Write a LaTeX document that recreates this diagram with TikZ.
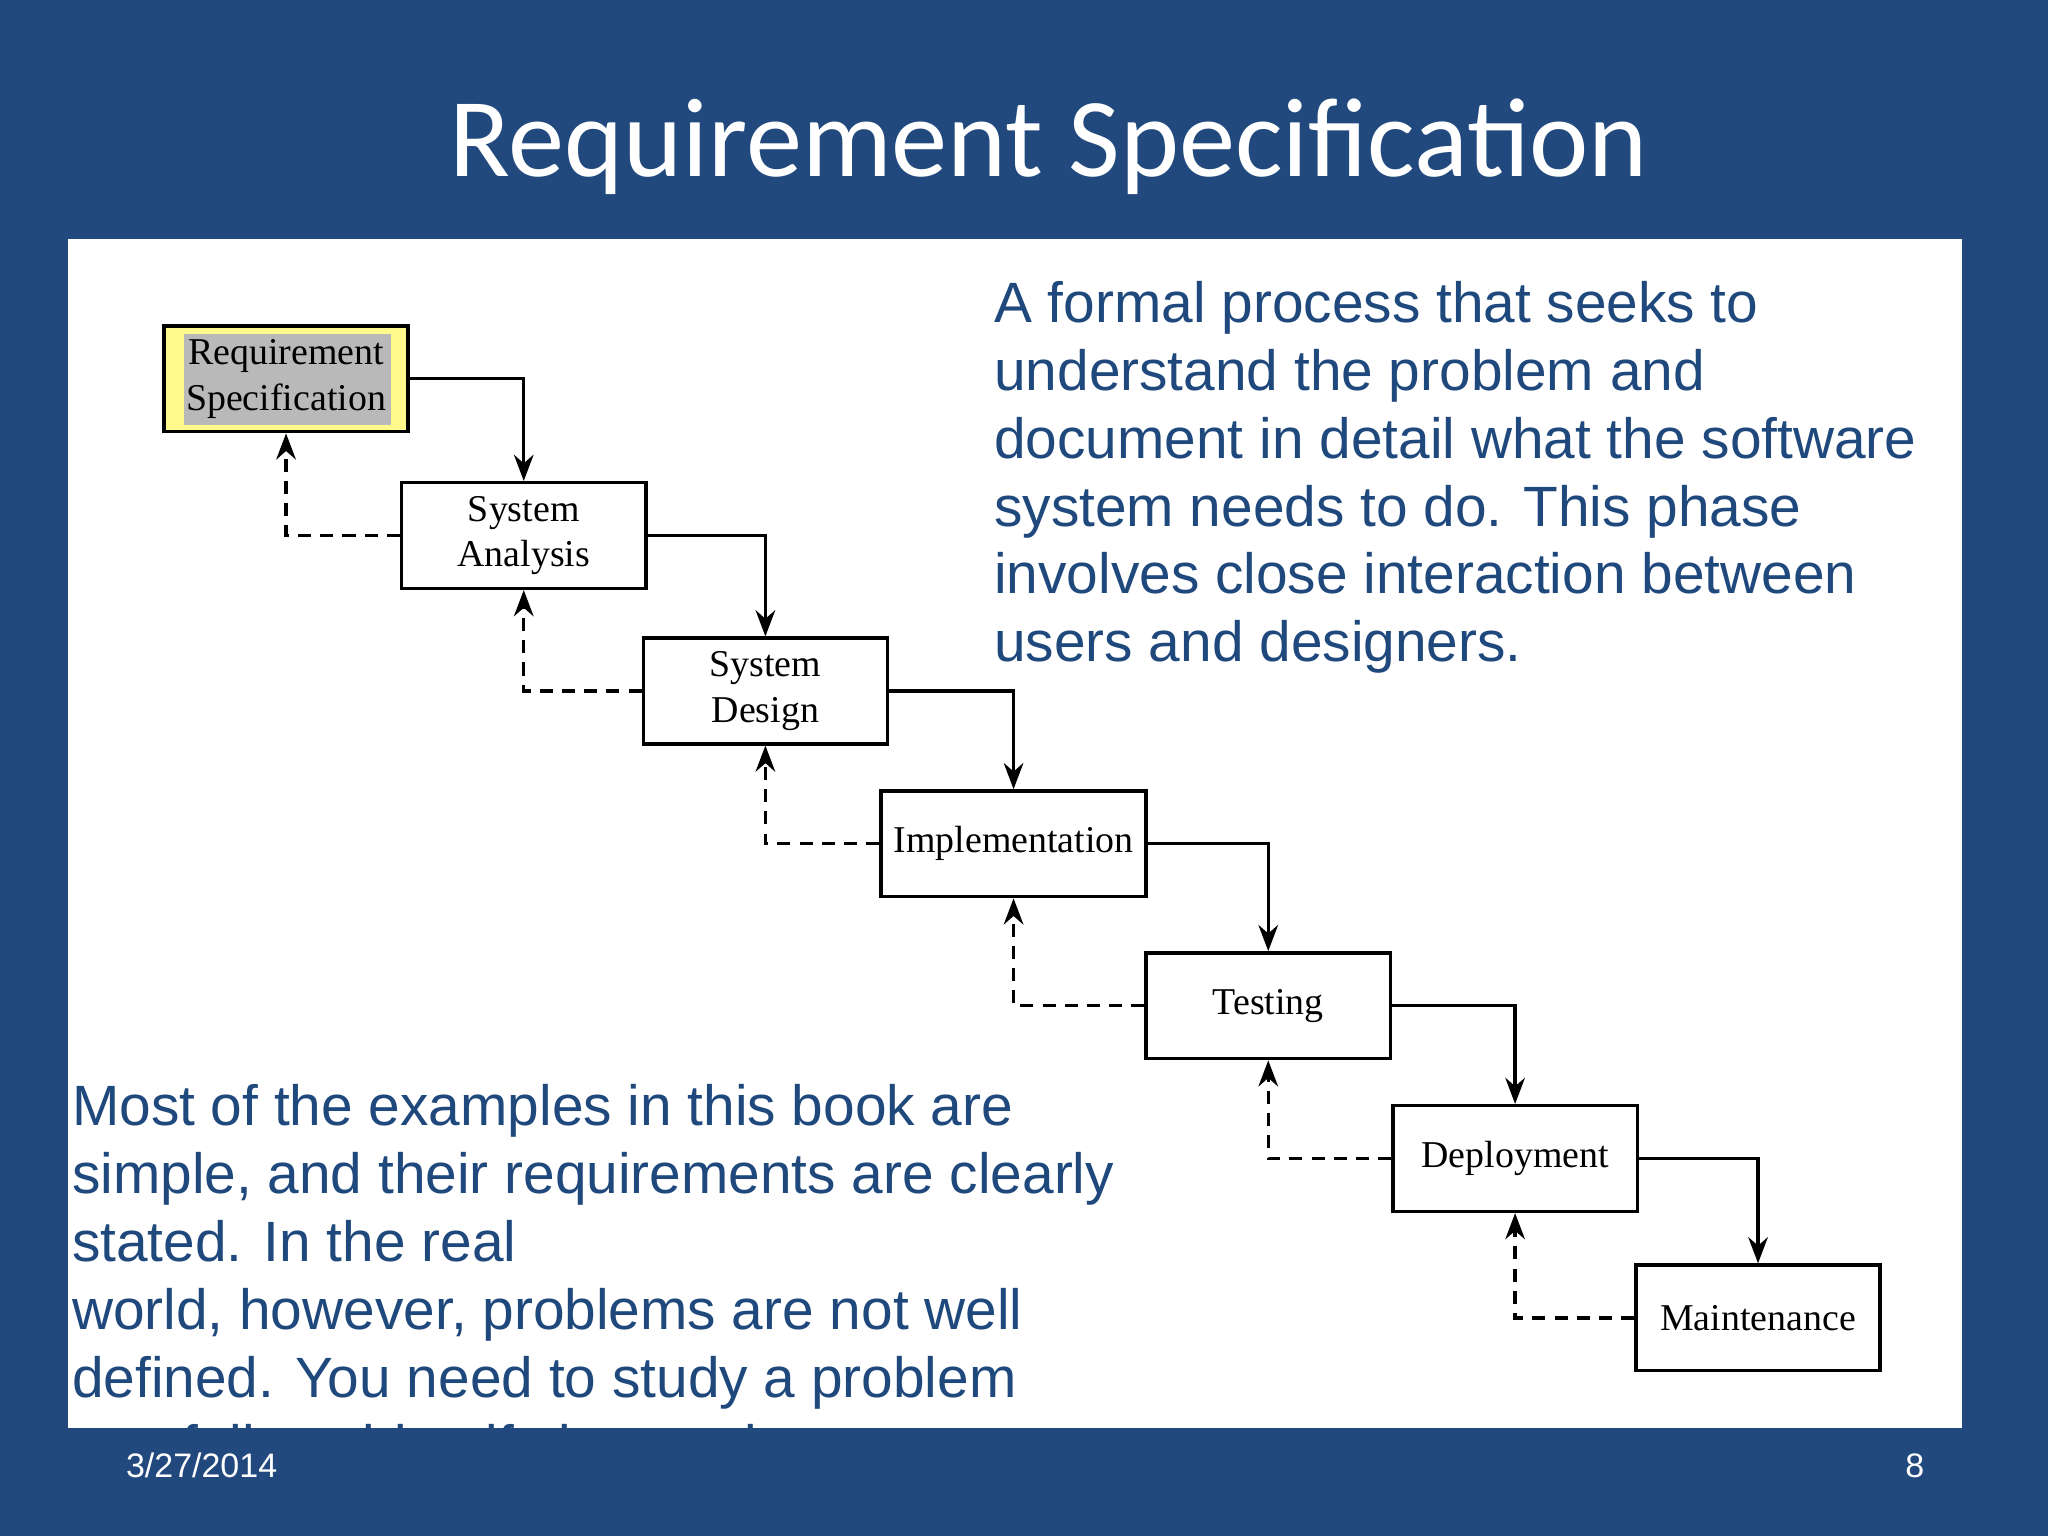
\documentclass[tikz,border=0pt]{standalone}
\usepackage{fontspec}
\setmainfont{Liberation Serif}
\newfontfamily\titlef{Carlito}
\newfontfamily\sansf{Liberation Sans}
\usetikzlibrary{arrows.meta}
\definecolor{bg}{RGB}{33,73,125}
\definecolor{tx}{RGB}{31,73,125}
\begin{document}
\begin{tikzpicture}[x=1pt,y=-1pt,
  box/.style={draw,line width=2.6pt,minimum width=187pt,minimum height=81pt,inner sep=0pt,align=center,font=\fontsize{29}{35}\selectfont},
  fwd/.style={line width=2.6pt,-{Stealth[length=20pt,width=15pt]}},
  back/.style={line width=2.6pt,dash pattern=on 10pt off 7pt,-{Stealth[length=20pt,width=15pt]}}]
\useasboundingbox (0,0) rectangle (1568,1176);
\fill[bg] (0,0) rectangle (1568,1176);
\fill[white] (52,183) rectangle (1502,1093);
\node[white,font=\titlef\fontsize{86}{86}\selectfont] (title) at (803,112) {Requirement Specification};
\node[white,font=\sansf\fontsize{26}{26}\selectfont,anchor=west] (date) at (93,1122) {3/27/2014};
\node[white,font=\sansf\fontsize{26}{26}\selectfont] (pg) at (1466,1122) {8};
% boxes
\node[box,fill=yellow!45] (rs) at (219,290) {};
\fill[gray!55] (141,256) rectangle (299,325);
\node[box,draw=none] (rst) at (219,290) {Requirement\\Specification};
\node[box] (sa) at (401,410) {System\\Analysis};
\node[box] (sd) at (586,529) {System\\Design};
\node[box,minimum width=203pt] (im) at (776,646) {Implementation};
\node[box] (te) at (971,770) {Testing};
\node[box] (de) at (1160,887) {Deployment};
\node[box] (ma) at (1346,1009) {Maintenance};
% forward arrows
\draw[fwd] (rs.east) -| (sa.north);
\draw[fwd] (sa.east) -| (sd.north);
\draw[fwd] (sd.east) -| (im.north);
\draw[fwd] (im.east) -| (te.north);
\draw[fwd] (te.east) -| (de.north);
\draw[fwd] (de.east) -| (ma.north);
% back arrows
\draw[back] (sa.west) -| (rs.south);
\draw[back] (sd.west) -| (sa.south);
\draw[back] (im.west) -| (sd.south);
\draw[back] (te.west) -| (im.south);
\draw[back] (de.west) -| (te.south);
\draw[back] (ma.west) -| (de.south);
% texts
\node[tx,font=\sansf\fontsize{43.5}{52}\selectfont,align=left,anchor=north west,inner sep=0pt] (t1) at (761,215)
{A formal process that seeks to\\understand the problem and\\document in detail what the software\\system needs to do. This phase\\involves close interaction between\\users and designers.};
\begin{scope}
\clip (52,183) rectangle (1502,1093);
\node[tx,font=\sansf\fontsize{43.5}{52}\selectfont,align=left,anchor=north west,inner sep=0pt] (t2) at (55,830)
{Most of the examples in this book are\\simple, and their requirements are clearly\\stated. In the real\\world, however, problems are not well\\defined. You need to study a problem\\carefully to identify its requirements.};
\end{scope}
\end{tikzpicture}
\end{document}
